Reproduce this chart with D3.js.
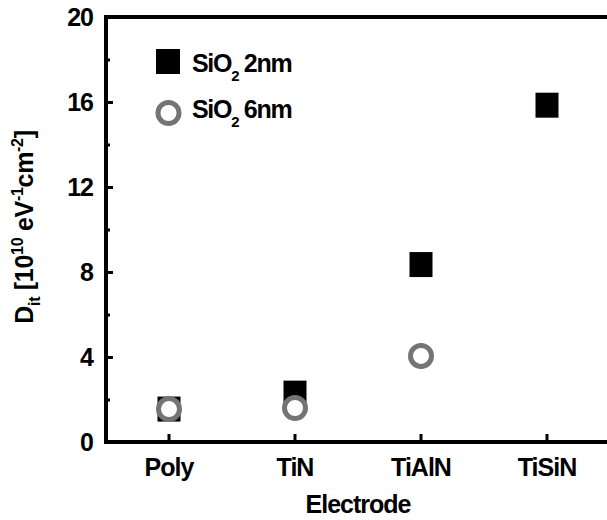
<!DOCTYPE html>
<html>
<head>
<meta charset="utf-8">
<script src="https://cdn.jsdelivr.net/npm/d3@7"></script>
<style>
  html, body { margin: 0; padding: 0; background: #fff; }
  svg { display: block; }
  text { font-family: "Liberation Sans", Arial, sans-serif; font-weight: bold; fill: #000; }
</style>
</head>
<body>
<svg id="chart" width="607" height="520"></svg>
<script>
// Interface trap density per gate electrode
const electrodes = ["Poly", "TiN", "TiAlN", "TiSiN"];
const dit2nm = [1.55, 2.3, 8.35, 15.85];
const dit6nm = [1.55, 1.6, 4.05, null];
const yMajorTicks = [0, 4, 8, 12, 16, 20];
const yMinorTicks = [2, 6, 10, 14, 18];

const svg = d3.select("#chart");
const plotLeft = 106, plotTop = 17, plotBottom = 442, plotRight = 610;
const fontSize = 25, smallSize = 16;

const x = d3.scaleBand().domain(electrodes).range([plotLeft, plotRight]).padding(0);
const y = d3.scaleLinear().domain([0, 20]).range([plotBottom, plotTop]);
const cx = d => x(d) + x.bandwidth() / 2;

const styleText = sel => sel
  .attr("font-size", fontSize)
  .attr("font-family", "Liberation Sans, Arial, sans-serif")
  .attr("font-weight", "bold")
  .attr("letter-spacing", "-1")
  .attr("fill", "#000");

// minor y ticks
svg.append("g")
  .attr("transform", `translate(${plotLeft},0)`)
  .call(d3.axisLeft(y).tickValues(yMinorTicks).tickSize(-4).tickFormat(""))
  .call(g => g.select(".domain").remove())
  .call(g => g.selectAll("line").attr("stroke", "#000").attr("stroke-width", 3));

// major y ticks and labels
svg.append("g")
  .attr("transform", `translate(${plotLeft},0)`)
  .call(d3.axisLeft(y).tickValues(yMajorTicks).tickSize(-7).tickPadding(13).tickFormat(d3.format("d")))
  .call(g => g.select(".domain").remove())
  .call(g => g.selectAll("line").attr("stroke", "#000").attr("stroke-width", 3))
  .call(g => g.selectAll("text").call(styleText));

// x ticks and labels
svg.append("g")
  .attr("transform", `translate(0,${plotBottom})`)
  .call(d3.axisBottom(x).tickSize(-8).tickPadding(16))
  .call(g => g.select(".domain").remove())
  .call(g => g.selectAll("line").attr("stroke", "#000").attr("stroke-width", 3))
  .call(g => g.selectAll("text").call(styleText));

// frame: left, top and bottom edges
svg.append("path")
  .attr("d", `M607,${plotTop}H${plotLeft}V${plotBottom}H607`)
  .attr("fill", "none").attr("stroke", "#000").attr("stroke-width", 4);

// SiO2 2nm: filled squares
const sqW = 23, sqH = 25;
svg.append("g").selectAll("rect")
  .data(electrodes.map((e, i) => ({ e, v: dit2nm[i] })).filter(d => d.v != null))
  .join("rect")
  .attr("x", d => cx(d.e) - sqW / 2)
  .attr("y", d => y(d.v) - sqH / 2)
  .attr("width", sqW).attr("height", sqH)
  .attr("fill", "#000");

// SiO2 6nm: open circles
svg.append("g").selectAll("circle")
  .data(electrodes.map((e, i) => ({ e, v: dit6nm[i] })).filter(d => d.v != null))
  .join("circle")
  .attr("cx", d => cx(d.e))
  .attr("cy", d => y(d.v))
  .attr("r", 10.5)
  .attr("fill", "#fff")
  .attr("stroke", "#747474")
  .attr("stroke-width", 5);

// legend
const legend = svg.append("g");
legend.append("rect").attr("x", 156).attr("y", 49).attr("width", 24).attr("height", 25).attr("fill", "#000");
legend.append("circle").attr("cx", 168.5).attr("cy", 113).attr("r", 10.5)
  .attr("fill", "#fff").attr("stroke", "#747474").attr("stroke-width", 5);

function sio2(g, xPos, yPos, rest) {
  const t = g.append("text").attr("x", xPos).attr("y", yPos).call(styleText).attr("letter-spacing", "-1.3");
  t.append("tspan").text("SiO");
  t.append("tspan").attr("font-size", 15).attr("dy", 9).text("2");
  t.append("tspan").attr("dy", -9).text(" " + rest);
}
sio2(legend, 192, 72, "2nm");
sio2(legend, 192, 118, "6nm");

// x axis title
svg.append("text")
  .attr("x", 358).attr("y", 513)
  .attr("text-anchor", "middle")
  .call(styleText)
  .text("Electrode");

// y axis title
const yt = svg.append("text")
  .attr("transform", "translate(33,227) rotate(-90)")
  .attr("text-anchor", "middle")
  .call(styleText)
  .attr("letter-spacing", "-0.3");
yt.append("tspan").text("D");
yt.append("tspan").attr("font-size", smallSize).attr("dy", 7).text("it");
yt.append("tspan").attr("dy", -7).text(" [10");
yt.append("tspan").attr("font-size", smallSize).attr("dy", -10).text("10");
yt.append("tspan").attr("dy", 10).text(" eV");
yt.append("tspan").attr("font-size", smallSize).attr("dy", -10).text("-1");
yt.append("tspan").attr("dy", 10).text("cm");
yt.append("tspan").attr("font-size", smallSize).attr("dy", -10).text("-2");
yt.append("tspan").attr("dy", 10).text("]");
</script>
</body>
</html>
